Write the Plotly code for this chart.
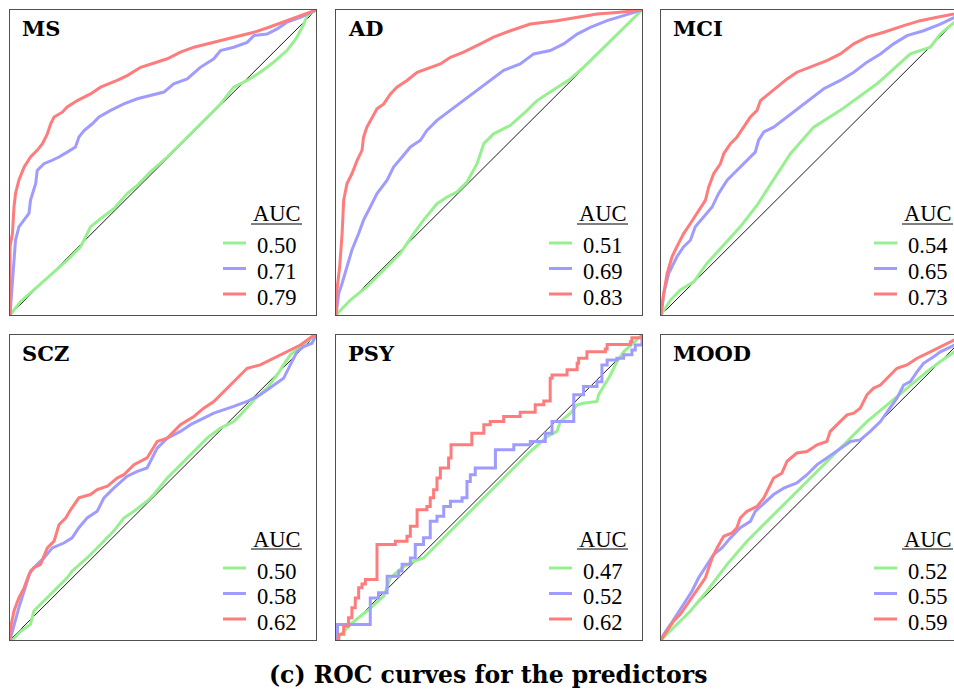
import plotly.graph_objects as go

# ---------------- data ----------------
PANELS = ["MS", "AD", "MCI", "SCZ", "PSY", "MOOD"]
AUC_GREEN = ["0.50", "0.51", "0.54", "0.50", "0.47", "0.52"]
AUC_BLUE = ["0.71", "0.69", "0.65", "0.58", "0.52", "0.55"]
AUC_RED = ["0.79", "0.83", "0.73", "0.62", "0.62", "0.59"]

# MS
MS_RED_X = [0, 0, 0.008, 0.013, 0.018, 0.029, 0.046, 0.067, 0.089, 0.106, 0.122, 0.133, 0.144, 0.171, 0.187, 0.220, 0.263, 0.296, 0.350, 0.383, 0.427, 0.481, 0.514, 0.557, 0.601, 0.666, 0.731, 0.797, 0.851, 0.905, 0.949, 1.0]
MS_RED_Y = [0, 0.224, 0.267, 0.354, 0.398, 0.442, 0.485, 0.518, 0.540, 0.562, 0.594, 0.627, 0.649, 0.665, 0.682, 0.703, 0.725, 0.747, 0.769, 0.785, 0.812, 0.829, 0.840, 0.862, 0.878, 0.894, 0.911, 0.927, 0.945, 0.965, 0.981, 1.0]
MS_BLUE_X = [0, 0.008, 0.011, 0.018, 0.029, 0.046, 0.062, 0.067, 0.073, 0.084, 0.089, 0.111, 0.133, 0.160, 0.187, 0.214, 0.225, 0.242, 0.269, 0.291, 0.329, 0.372, 0.416, 0.459, 0.503, 0.535, 0.579, 0.622, 0.666, 0.688, 0.731, 0.775, 0.797, 0.840, 0.873, 0.905, 0.949, 1.0]
MS_BLUE_Y = [0, 0.104, 0.158, 0.245, 0.289, 0.311, 0.333, 0.376, 0.398, 0.431, 0.474, 0.496, 0.505, 0.518, 0.534, 0.551, 0.583, 0.605, 0.627, 0.649, 0.671, 0.692, 0.709, 0.720, 0.731, 0.758, 0.774, 0.812, 0.840, 0.867, 0.878, 0.894, 0.916, 0.921, 0.938, 0.960, 0.976, 1.0]
MS_GREEN_X = [0, 0.035, 0.078, 0.133, 0.187, 0.231, 0.263, 0.296, 0.340, 0.383, 0.416, 0.459, 0.514, 0.579, 0.633, 0.688, 0.731, 0.775, 0.818, 0.862, 0.905, 0.938, 0.960, 0.971, 1.0]
MS_GREEN_Y = [0, 0.044, 0.082, 0.131, 0.180, 0.224, 0.289, 0.316, 0.349, 0.398, 0.425, 0.469, 0.518, 0.583, 0.638, 0.692, 0.747, 0.769, 0.796, 0.829, 0.867, 0.911, 0.954, 0.981, 1.0]

# AD
AD_RED_X = [0, 0.003, 0.012, 0.020, 0.025, 0.036, 0.052, 0.069, 0.085, 0.090, 0.101, 0.118, 0.134, 0.156, 0.178, 0.199, 0.232, 0.265, 0.308, 0.341, 0.374, 0.417, 0.472, 0.515, 0.570, 0.635, 0.722, 0.788, 0.853, 0.918, 1.0]
AD_RED_Y = [0, 0.082, 0.158, 0.267, 0.376, 0.431, 0.463, 0.507, 0.540, 0.583, 0.616, 0.649, 0.676, 0.692, 0.725, 0.747, 0.769, 0.796, 0.812, 0.823, 0.845, 0.862, 0.889, 0.911, 0.932, 0.954, 0.965, 0.976, 0.987, 0.992, 1.0]
AD_BLUE_X = [0, 0.009, 0.020, 0.036, 0.052, 0.074, 0.090, 0.112, 0.134, 0.167, 0.188, 0.216, 0.243, 0.276, 0.297, 0.330, 0.374, 0.417, 0.461, 0.504, 0.548, 0.602, 0.646, 0.700, 0.744, 0.788, 0.831, 0.886, 0.940, 1.0]
AD_BLUE_Y = [0, 0.071, 0.104, 0.158, 0.213, 0.267, 0.311, 0.354, 0.398, 0.442, 0.485, 0.518, 0.551, 0.573, 0.605, 0.638, 0.671, 0.703, 0.736, 0.769, 0.802, 0.823, 0.856, 0.867, 0.889, 0.921, 0.943, 0.965, 0.981, 1.0]
AD_GREEN_X = [0, 0.047, 0.101, 0.156, 0.210, 0.254, 0.286, 0.330, 0.363, 0.395, 0.428, 0.461, 0.483, 0.515, 0.570, 0.613, 0.657, 0.700, 0.766, 0.809, 0.853, 0.897, 0.940, 1.0]
AD_GREEN_Y = [0, 0.049, 0.093, 0.147, 0.202, 0.267, 0.311, 0.365, 0.387, 0.403, 0.436, 0.496, 0.562, 0.594, 0.622, 0.660, 0.703, 0.731, 0.774, 0.812, 0.856, 0.900, 0.943, 1.0]

# MCI
MCI_RED_X = [0, 0.009, 0.020, 0.036, 0.052, 0.074, 0.096, 0.123, 0.145, 0.156, 0.172, 0.194, 0.205, 0.227, 0.248, 0.270, 0.292, 0.314, 0.325, 0.346, 0.379, 0.412, 0.444, 0.488, 0.542, 0.586, 0.630, 0.673, 0.728, 0.793, 0.847, 0.902, 0.959, 1.0]
MCI_RED_Y = [0, 0.071, 0.136, 0.191, 0.224, 0.267, 0.300, 0.344, 0.376, 0.420, 0.463, 0.496, 0.529, 0.562, 0.583, 0.616, 0.649, 0.671, 0.703, 0.720, 0.747, 0.774, 0.796, 0.812, 0.834, 0.856, 0.889, 0.911, 0.927, 0.949, 0.965, 0.976, 0.987, 1.0]
MCI_BLUE_X = [0, 0.009, 0.025, 0.052, 0.074, 0.096, 0.112, 0.139, 0.167, 0.188, 0.216, 0.237, 0.270, 0.308, 0.319, 0.336, 0.368, 0.412, 0.455, 0.488, 0.532, 0.586, 0.630, 0.673, 0.717, 0.760, 0.804, 0.858, 0.913, 0.959, 1.0]
MCI_BLUE_Y = [0, 0.071, 0.136, 0.191, 0.224, 0.245, 0.289, 0.322, 0.354, 0.398, 0.442, 0.463, 0.496, 0.534, 0.573, 0.600, 0.616, 0.649, 0.682, 0.709, 0.742, 0.769, 0.796, 0.829, 0.856, 0.889, 0.916, 0.932, 0.954, 0.976, 1.0]
MCI_GREEN_X = [0, 0.031, 0.063, 0.107, 0.150, 0.199, 0.259, 0.314, 0.368, 0.423, 0.499, 0.586, 0.706, 0.815, 0.880, 0.913, 0.959, 1.0]
MCI_GREEN_Y = [0, 0.049, 0.082, 0.109, 0.169, 0.224, 0.289, 0.360, 0.442, 0.529, 0.616, 0.671, 0.758, 0.856, 0.878, 0.921, 0.960, 1.0]

# SCZ
SCZ_RED_X = [0, 0.004, 0.013, 0.029, 0.046, 0.062, 0.078, 0.100, 0.122, 0.144, 0.160, 0.182, 0.198, 0.225, 0.263, 0.285, 0.318, 0.350, 0.372, 0.405, 0.448, 0.481, 0.514, 0.557, 0.601, 0.633, 0.666, 0.688, 0.720, 0.753, 0.775, 0.818, 0.862, 0.905, 0.949, 0.987, 1.0]
SCZ_RED_Y = [0, 0.051, 0.095, 0.138, 0.171, 0.215, 0.237, 0.248, 0.302, 0.324, 0.378, 0.400, 0.427, 0.466, 0.477, 0.493, 0.504, 0.531, 0.542, 0.575, 0.597, 0.651, 0.662, 0.706, 0.733, 0.760, 0.782, 0.804, 0.836, 0.869, 0.891, 0.902, 0.924, 0.945, 0.967, 0.995, 1.0]
SCZ_BLUE_X = [0, 0.013, 0.029, 0.046, 0.067, 0.089, 0.111, 0.138, 0.176, 0.203, 0.225, 0.252, 0.285, 0.307, 0.339, 0.383, 0.416, 0.448, 0.481, 0.514, 0.557, 0.590, 0.622, 0.666, 0.731, 0.775, 0.818, 0.862, 0.894, 0.916, 0.938, 0.960, 0.987, 1.0]
SCZ_BLUE_Y = [0, 0.051, 0.106, 0.160, 0.226, 0.248, 0.269, 0.302, 0.318, 0.335, 0.368, 0.400, 0.422, 0.466, 0.498, 0.537, 0.553, 0.564, 0.629, 0.662, 0.684, 0.706, 0.722, 0.744, 0.766, 0.782, 0.804, 0.836, 0.858, 0.902, 0.945, 0.962, 0.973, 1.0]
SCZ_GREEN_X = [0, 0.008, 0.035, 0.067, 0.078, 0.111, 0.144, 0.187, 0.203, 0.252, 0.296, 0.339, 0.372, 0.405, 0.448, 0.470, 0.514, 0.579, 0.644, 0.688, 0.731, 0.753, 0.797, 0.840, 0.873, 0.894, 0.916, 0.949, 1.0]
SCZ_GREEN_Y = [0, 0, 0.029, 0.051, 0.095, 0.128, 0.160, 0.204, 0.226, 0.269, 0.313, 0.357, 0.400, 0.422, 0.455, 0.477, 0.531, 0.597, 0.662, 0.695, 0.716, 0.738, 0.787, 0.826, 0.869, 0.902, 0.935, 0.962, 1.0]

# PSY (red and blue are step curves)
PSY_RED_X = [0, 0.009, 0.025, 0.041, 0.052, 0.063, 0.074, 0.085, 0.096, 0.134, 0.194, 0.232, 0.243, 0.265, 0.297, 0.308, 0.319, 0.330, 0.341, 0.368, 0.376, 0.444, 0.483, 0.504, 0.548, 0.602, 0.651, 0.679, 0.700, 0.706, 0.755, 0.788, 0.793, 0.820, 0.880, 0.886, 0.962, 0.967, 1.0]
PSY_RED_Y = [0, 0.019, 0.046, 0.073, 0.106, 0.138, 0.171, 0.184, 0.198, 0.313, 0.324, 0.340, 0.373, 0.427, 0.438, 0.466, 0.493, 0.531, 0.564, 0.597, 0.640, 0.678, 0.706, 0.716, 0.733, 0.747, 0.771, 0.784, 0.858, 0.869, 0.886, 0.907, 0.924, 0.945, 0.954, 0.969, 0.978, 0.991, 1.0]
PSY_BLUE_X = [0, 0.005, 0.112, 0.139, 0.167, 0.205, 0.216, 0.243, 0.259, 0.286, 0.308, 0.330, 0.352, 0.374, 0.412, 0.428, 0.439, 0.455, 0.521, 0.581, 0.635, 0.684, 0.706, 0.777, 0.809, 0.853, 0.869, 0.886, 0.918, 0.940, 0.967, 0.978, 1.0]
PSY_BLUE_Y = [0, 0.051, 0.138, 0.155, 0.209, 0.226, 0.248, 0.269, 0.313, 0.335, 0.389, 0.406, 0.438, 0.455, 0.466, 0.520, 0.542, 0.564, 0.624, 0.640, 0.651, 0.678, 0.716, 0.804, 0.831, 0.847, 0.902, 0.918, 0.924, 0.935, 0.951, 0.967, 1.0]
PSY_GREEN_X = [0, 0.047, 0.101, 0.156, 0.178, 0.216, 0.254, 0.286, 0.308, 0.363, 0.417, 0.472, 0.526, 0.581, 0.635, 0.690, 0.722, 0.733, 0.766, 0.788, 0.809, 0.853, 0.858, 0.897, 0.918, 0.940, 1.0]
PSY_GREEN_Y = [0, 0.051, 0.095, 0.144, 0.204, 0.237, 0.258, 0.269, 0.291, 0.346, 0.400, 0.455, 0.509, 0.564, 0.618, 0.667, 0.684, 0.716, 0.744, 0.771, 0.776, 0.782, 0.804, 0.869, 0.913, 0.945, 1.0]

# MOOD
MOOD_RED_X = [0, 0.020, 0.041, 0.063, 0.085, 0.107, 0.123, 0.145, 0.167, 0.183, 0.205, 0.232, 0.248, 0.259, 0.281, 0.314, 0.336, 0.357, 0.368, 0.395, 0.412, 0.444, 0.477, 0.510, 0.542, 0.553, 0.586, 0.608, 0.630, 0.651, 0.673, 0.695, 0.717, 0.739, 0.771, 0.804, 0.837, 0.880, 0.924, 0.959, 1.0]
MOOD_RED_Y = [0, 0.029, 0.062, 0.084, 0.117, 0.149, 0.171, 0.204, 0.269, 0.302, 0.340, 0.351, 0.368, 0.400, 0.422, 0.438, 0.466, 0.509, 0.531, 0.547, 0.586, 0.613, 0.618, 0.640, 0.651, 0.684, 0.716, 0.738, 0.744, 0.760, 0.804, 0.826, 0.836, 0.858, 0.891, 0.902, 0.924, 0.945, 0.967, 0.984, 1.0]
MOOD_BLUE_X = [0, 0.009, 0.031, 0.052, 0.074, 0.101, 0.123, 0.150, 0.172, 0.199, 0.227, 0.259, 0.292, 0.308, 0.336, 0.368, 0.401, 0.444, 0.477, 0.510, 0.542, 0.586, 0.619, 0.651, 0.684, 0.717, 0.749, 0.771, 0.793, 0.815, 0.837, 0.858, 0.891, 0.913, 0.959, 1.0]
MOOD_BLUE_Y = [0, 0.019, 0.051, 0.084, 0.117, 0.160, 0.204, 0.248, 0.280, 0.302, 0.335, 0.368, 0.389, 0.422, 0.449, 0.477, 0.498, 0.515, 0.542, 0.575, 0.597, 0.629, 0.651, 0.656, 0.684, 0.716, 0.760, 0.793, 0.836, 0.847, 0.880, 0.907, 0.929, 0.945, 0.967, 1.0]
MOOD_GREEN_X = [0, 0.041, 0.096, 0.150, 0.216, 0.281, 0.336, 0.390, 0.444, 0.499, 0.553, 0.608, 0.673, 0.739, 0.804, 0.869, 0.913, 0.959, 1.0]
MOOD_GREEN_Y = [0, 0.040, 0.095, 0.160, 0.248, 0.324, 0.378, 0.433, 0.487, 0.542, 0.597, 0.651, 0.716, 0.771, 0.826, 0.880, 0.913, 0.945, 1.0]

CURVES = [
    (MS_GREEN_X, MS_GREEN_Y, MS_BLUE_X, MS_BLUE_Y, MS_RED_X, MS_RED_Y),
    (AD_GREEN_X, AD_GREEN_Y, AD_BLUE_X, AD_BLUE_Y, AD_RED_X, AD_RED_Y),
    (MCI_GREEN_X, MCI_GREEN_Y, MCI_BLUE_X, MCI_BLUE_Y, MCI_RED_X, MCI_RED_Y),
    (SCZ_GREEN_X, SCZ_GREEN_Y, SCZ_BLUE_X, SCZ_BLUE_Y, SCZ_RED_X, SCZ_RED_Y),
    (PSY_GREEN_X, PSY_GREEN_Y, PSY_BLUE_X, PSY_BLUE_Y, PSY_RED_X, PSY_RED_Y),
    (MOOD_GREEN_X, MOOD_GREEN_Y, MOOD_BLUE_X, MOOD_BLUE_Y, MOOD_RED_X, MOOD_RED_Y),
]
STEP_PANELS = {"PSY"}

# ---------------- styling / layout ----------------
W, H = 954, 689
GREEN, BLUE, RED = "#97F08F", "#A09CFF", "#FF7C7C"
BORDER = "#505050"
PANEL_W, PANEL_H = 306, 305
LEFTS = [10, 336, 661]
TOPS = [10, 335]
SERIF = "Liberation Serif, Times New Roman, serif"
BOLD_SERIF = "DejaVu Serif, serif"


def px(x):
    return x / W


def py(y):
    return 1 - y / H


fig = go.Figure()
shapes = []
annotations = []

for i, name in enumerate(PANELS):
    r, c = divmod(i, 3)
    L, T = LEFTS[c], TOPS[r]
    right = min(L + PANEL_W, W)
    xmax = (right - L) / PANEL_W
    n = i + 1
    xa = "x" if n == 1 else f"x{n}"
    ya = "y" if n == 1 else f"y{n}"
    gx, gy, bx, by, rx, ry = CURVES[i]
    shape = "hv" if name in STEP_PANELS else "linear"

    fig.add_trace(go.Scatter(x=[0, 1], y=[0, 1], mode="lines", xaxis=xa, yaxis=ya,
                             line=dict(color="black", width=0.9), showlegend=False, hoverinfo="skip"))
    fig.add_trace(go.Scatter(x=gx, y=gy, mode="lines", xaxis=xa, yaxis=ya,
                             line=dict(color=GREEN, width=3), showlegend=False))
    fig.add_trace(go.Scatter(x=bx, y=by, mode="lines", xaxis=xa, yaxis=ya,
                             line=dict(color=BLUE, width=3, shape=shape), showlegend=False))
    fig.add_trace(go.Scatter(x=rx, y=ry, mode="lines", xaxis=xa, yaxis=ya,
                             line=dict(color=RED, width=3, shape=shape), showlegend=False))

    common = dict(showgrid=False, zeroline=False, showticklabels=False, ticks="",
                  showline=True, linecolor=BORDER, linewidth=1.2, fixedrange=True)
    fig.update_layout(**{
        ("xaxis" if n == 1 else f"xaxis{n}"): dict(domain=[px(L), px(right)], range=[0, xmax],
                                                   anchor=ya, mirror=True, **common),
        ("yaxis" if n == 1 else f"yaxis{n}"): dict(domain=[py(T + PANEL_H), py(T)], range=[0, 1],
                                                   anchor=xa, mirror=(right == L + PANEL_W), **common),
    })

    # panel label
    annotations.append(dict(x=px(L + 10), y=py(T + 18), xref="paper", yref="paper",
                            text=f"<b>{name}</b>", showarrow=False, xanchor="left", yanchor="middle",
                            font=dict(family=BOLD_SERIF, size=21, color="black")))
    # AUC legend
    cx = L + 267
    annotations.append(dict(x=px(cx), y=py(T + 204), xref="paper", yref="paper", text="AUC",
                            showarrow=False, xanchor="center", yanchor="middle",
                            font=dict(family=SERIF, size=22.5, color="black")))
    shapes.append(dict(type="line", xref="paper", yref="paper", x0=px(L + 241), x1=px(L + 292),
                       y0=py(T + 214), y1=py(T + 214), line=dict(color="black", width=1)))
    for k, (col, lab) in enumerate([(GREEN, AUC_GREEN[i]), (BLUE, AUC_BLUE[i]), (RED, AUC_RED[i])]):
        ly = T + 233 + k * 25.5
        shapes.append(dict(type="line", xref="paper", yref="paper", x0=px(L + 213), x1=px(L + 236),
                           y0=py(ly), y1=py(ly), line=dict(color=col, width=3)))
        annotations.append(dict(x=px(L + 245), y=py(ly + 3), xref="paper", yref="paper", text=lab,
                                showarrow=False, xanchor="left", yanchor="middle",
                                font=dict(family=SERIF, size=22.5, color="black")))

annotations.append(dict(x=px(488), y=py(675), xref="paper", yref="paper",
                        text="<b>(c) ROC curves for the predictors</b>", showarrow=False,
                        xanchor="center", yanchor="middle",
                        font=dict(family=BOLD_SERIF, size=23.5, color="black")))

fig.update_layout(width=W, height=H, margin=dict(l=0, r=0, t=0, b=0),
                  paper_bgcolor="white", plot_bgcolor="white",
                  shapes=shapes, annotations=annotations, showlegend=False)

fig.write_html("out.html",
               config={"displayModeBar": False, "staticPlot": True},
               post_script="document.body.style.margin='0';"
                           "document.documentElement.style.overflow='hidden';")
